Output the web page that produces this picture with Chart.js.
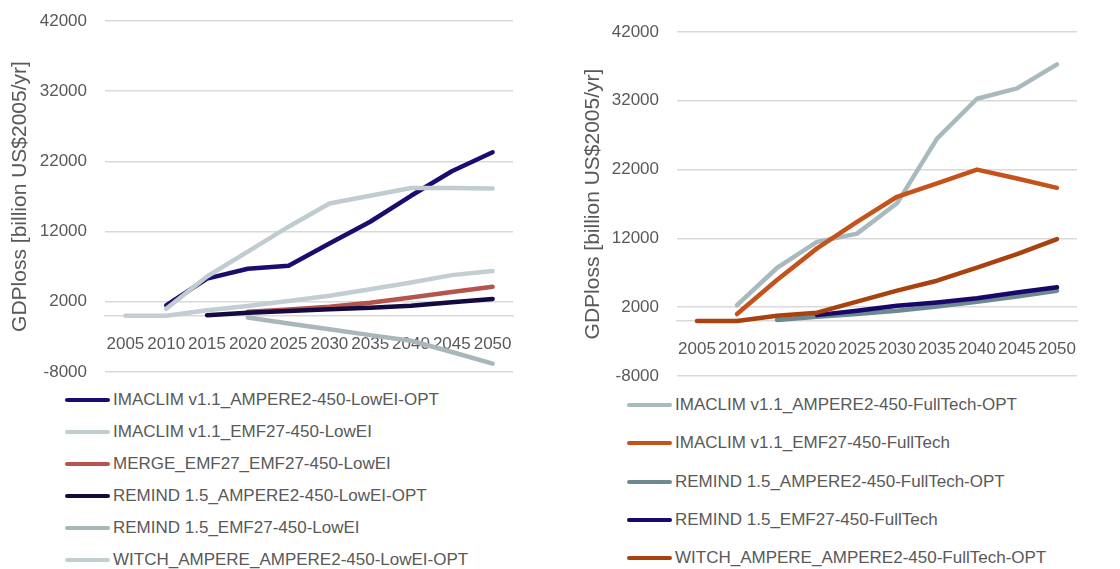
<!DOCTYPE html>
<html>
<head>
<meta charset="utf-8">
<script src="https://cdn.jsdelivr.net/npm/chart.js@4.4.1/dist/chart.umd.min.js"></script>
<style>
  body { margin: 0; background: #fff; font-family: "Liberation Sans", Arial, sans-serif; }
  .panel { position: absolute; top: 0; width: 560px; height: 569px; }
  .panel canvas { position: absolute; left: 0; top: 0; }
  .legend-row { position: absolute; height: 20px; display: flex; align-items: center; white-space: nowrap; font-size: 17px; color: #595959; }
  .legend-line { width: 45px; height: 4px; border-radius: 2px; margin-right: 3px; }
</style>
</head>
<body>
<div class="panel" style="left:0"><canvas id="leftChart" width="560" height="390"></canvas><div id="leftLegend"></div></div>
<div class="panel" style="left:560px"><canvas id="rightChart" width="560" height="390"></canvas><div id="rightLegend"></div></div>
<script>
// categorías y ticks
const years = ['2005', '2010', '2015', '2020', '2025', '2030', '2035', '2040', '2045', '2050'];
const yTicks = [-8000, 2000, 12000, 22000, 32000, 42000];

// panel izquierdo (LowEI)
const imaclimAmpLowEI = [null, 1500, 5300, 6700, 7150, 10300, 13400, 17100, 20600, 23300];
const imaclimEmfLowEI = [null, 1000, 5600, 9150, 12700, 16000, 17100, 18200, 18200, 18150];
const mergeEmfLowEI = [null, null, null, 600, 900, 1300, 1850, 2600, 3400, 4150];
const remindAmpLowEI = [null, null, 100, 450, 700, 950, 1150, 1450, 1950, 2400];
const remindEmfLowEI = [null, null, null, -250, -1100, -1900, -2750, -3550, -5150, -6800];
const witchAmpLowEI = [0, 0, 800, 1400, 2100, 2850, 3800, 4750, 5800, 6400];

// panel derecho (FullTech)
const imaclimAmpFull = [null, 2300, 7700, 11500, 12700, 17100, 26500, 32300, 33800, 37300];
const imaclimEmfFull = [null, 1000, 5950, 10550, 14400, 18050, 20000, 22000, 20700, 19350];
const remindAmpFull = [null, null, 150, 600, 1000, 1500, 2100, 2800, 3550, 4400];
const remindEmfFull = [null, null, null, 850, 1500, 2200, 2700, 3300, 4150, 4900];
const witchAmpFull = [0, 0, 750, 1200, 2800, 4400, 5850, 7750, 9700, 11900];

const leftSeries = [
    { label: 'IMACLIM v1.1_AMPERE2-450-LowEI-OPT', data: imaclimAmpLowEI, color: '#1B0D70' },
    { label: 'IMACLIM v1.1_EMF27-450-LowEI', data: imaclimEmfLowEI, color: '#C0CCD0' },
    { label: 'MERGE_EMF27_EMF27-450-LowEI', data: mergeEmfLowEI, color: '#B5544D' },
    { label: 'REMIND 1.5_AMPERE2-450-LowEI-OPT', data: remindAmpLowEI, color: '#140940' },
    { label: 'REMIND 1.5_EMF27-450-LowEI', data: remindEmfLowEI, color: '#A9B7BB' },
    { label: 'WITCH_AMPERE_AMPERE2-450-LowEI-OPT', data: witchAmpLowEI, color: '#C3CED2' }
];

const rightSeries = [
    { label: 'IMACLIM v1.1_AMPERE2-450-FullTech-OPT', data: imaclimAmpFull, color: '#A9BABE' },
    { label: 'IMACLIM v1.1_EMF27-450-FullTech', data: imaclimEmfFull, color: '#C5521A' },
    { label: 'REMIND 1.5_AMPERE2-450-FullTech-OPT', data: remindAmpFull, color: '#6D8A93' },
    { label: 'REMIND 1.5_EMF27-450-FullTech', data: remindEmfFull, color: '#17086A' },
    { label: 'WITCH_AMPERE_AMPERE2-450-FullTech-OPT', data: witchAmpFull, color: '#A8420F' }
];

const textColor = '#595959';
const gridColor = '#D9D9D9';

function buildChart(canvasId, series, geo) {
    const ctx = document.getElementById(canvasId).getContext('2d');
    return new Chart(ctx, {
        type: 'line',
        data: {
            labels: years,
            datasets: series.map((s, i) => ({
                label: s.label,
                data: s.data,
                borderColor: s.color,
                backgroundColor: s.color,
                borderWidth: 4.5,
                borderCapStyle: 'round',
                borderJoinStyle: 'round',
                pointRadius: 0,
                tension: 0,
                order: -i // la última serie queda encima, como en Excel
            }))
        },
        options: {
            responsive: false,
            animation: false,
            layout: {
                padding: { top: geo.top, bottom: geo.bottom, left: 0, right: geo.right }
            },
            plugins: {
                legend: { display: false },
                tooltip: { enabled: false }
            },
            scales: {
                x: {
                    position: { y: 0 },
                    offset: true,
                    grid: { display: false, drawTicks: false },
                    border: { display: true, color: gridColor, width: 1.5 },
                    ticks: {
                        color: textColor,
                        font: { family: 'Liberation Sans', size: 17 },
                        padding: 18,
                        maxRotation: 0,
                        autoSkip: false
                    }
                },
                y: {
                    min: -8000,
                    max: 42000,
                    // marcas invisibles: separan las etiquetas sin inflar el padding vertical
                    grid: { color: gridColor, lineWidth: 1.5, drawTicks: true, tickLength: 18, tickColor: 'rgba(0,0,0,0)' },
                    border: { display: false },
                    ticks: {
                        color: textColor,
                        font: { family: 'Liberation Sans', size: 17 },
                        padding: 0,
                        callback: (value) => value
                    },
                    afterBuildTicks: (scale) => {
                        scale.ticks = yTicks.map(v => ({ value: v }));
                    },
                    afterFit: (scale) => {
                        scale.width = geo.axisWidth;
                    },
                    title: {
                        display: true,
                        text: 'GDPloss [billion US$2005/yr]',
                        color: textColor,
                        font: { family: 'Liberation Sans', size: 21 },
                        padding: { top: geo.titlePad, bottom: 0 }
                    }
                }
            }
        }
    });
}

function buildLegend(chart, legendId, geo) {
    const box = document.getElementById(legendId);
    chart.data.datasets.forEach((ds, i) => {
        const row = document.createElement('div');
        row.className = 'legend-row';
        row.style.left = geo.legendLeft + 'px';
        row.style.top = (geo.legendTop + i * geo.legendStep - 10) + 'px';
        const line = document.createElement('span');
        line.className = 'legend-line';
        line.style.backgroundColor = ds.borderColor;
        const text = document.createElement('span');
        text.textContent = ds.label;
        row.appendChild(line);
        row.appendChild(text);
        box.appendChild(row);
    });
}

const leftGeo = { top: 21, bottom: 18, right: 47, axisWidth: 105, titlePad: 8, legendLeft: 65, legendTop: 400, legendStep: 32 };
const rightGeo = { top: 32, bottom: 14, right: 43, axisWidth: 117, titlePad: 21, legendLeft: 67, legendTop: 405, legendStep: 38.25 };

const leftChart = buildChart('leftChart', leftSeries, leftGeo);
const rightChart = buildChart('rightChart', rightSeries, rightGeo);
buildLegend(leftChart, 'leftLegend', leftGeo);
buildLegend(rightChart, 'rightLegend', rightGeo);
</script>
</body>
</html>
